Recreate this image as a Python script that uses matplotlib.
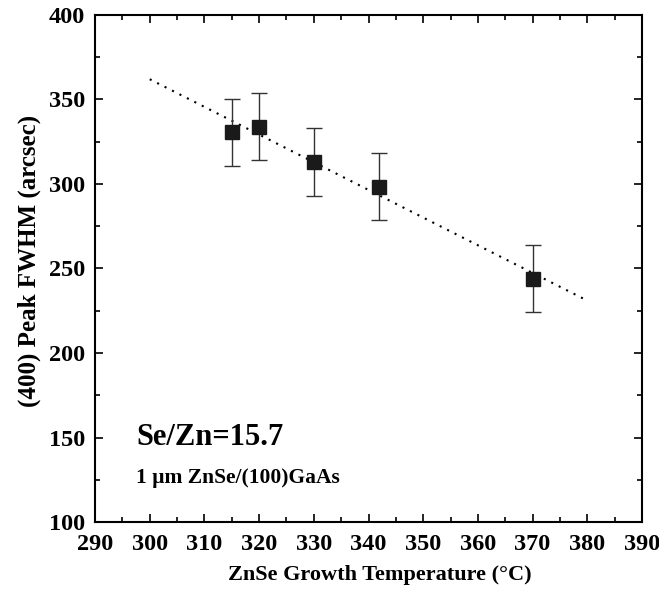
import matplotlib
matplotlib.use('Agg')
import matplotlib.pyplot as plt
from matplotlib.ticker import MultipleLocator

# measured points
temps = [315, 320, 330, 342, 370]
fwhm = [330.5, 334, 313, 298.5, 244]
errs = [20, 20, 20, 20, 20]

# dotted linear fit
fit_x = [300, 380]
fit_y = [362, 231]

plt.rcParams['font.family'] = ['Liberation Serif', 'DejaVu Serif']
plt.rcParams['font.weight'] = 'bold'

fig = plt.figure(figsize=(6.59, 6.0), dpi=100)
ax = fig.add_axes([0.1442, 0.13, 0.830, 0.845])

ax.plot(fit_x, fit_y, color='black', linestyle=(0, (1, 3)), linewidth=1.5)
ax.errorbar(temps, fwhm, yerr=errs, fmt='none', ecolor='#333333',
            elinewidth=1.0, capsize=6, capthick=1.0)
ax.plot(temps, fwhm, linestyle='none', marker='s', markersize=9.5,
        color='#1a1a1a')

ax.set_xlim(290, 390)
ax.set_ylim(100, 400)
ax.xaxis.set_major_locator(MultipleLocator(10))
ax.xaxis.set_minor_locator(MultipleLocator(5))
ax.yaxis.set_major_locator(MultipleLocator(50))
ax.yaxis.set_minor_locator(MultipleLocator(25))

ax.tick_params(which='both', direction='in', top=True, right=True, width=1.2)
ax.tick_params(which='major', length=6, labelsize=17.5)
ax.tick_params(which='minor', length=3.5)
ax.tick_params(axis='x', pad=9)
ax.tick_params(axis='y', pad=7)
for lbl in ax.get_xticklabels() + ax.get_yticklabels():
    lbl.set_fontweight('bold')
for s in ax.spines.values():
    s.set_linewidth(1.5)

ax.set_xlabel('ZnSe Growth Temperature (°C)', fontsize=16, fontweight='bold',
              labelpad=4)
ax.xaxis.set_label_coords(0.521, -0.085)
ax.set_ylabel('(400) Peak FWHM (arcsec)', fontsize=18, fontweight='bold',
              labelpad=4)
ax.yaxis.set_label_coords(-0.099, 0.515)

ax.text(297.5, 150, 'Se/Zn=15.7', fontsize=22, fontweight='bold',
        va='center', ha='left')
ax.text(297.5, 126, '1 µm ZnSe/(100)GaAs', fontsize=15.5, fontweight='bold',
        va='center', ha='left')

plt.savefig('out.png', dpi=100)
plt.close()
